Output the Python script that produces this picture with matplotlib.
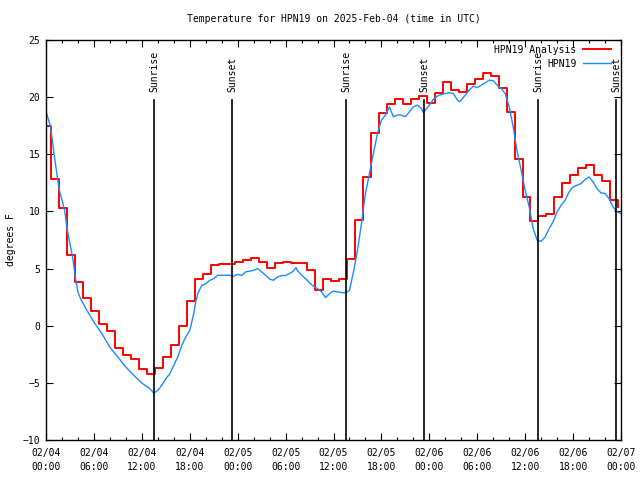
import matplotlib
matplotlib.use("Agg")
import matplotlib.pyplot as plt
import matplotlib.dates as mdates
import matplotlib.transforms as mtransforms
import numpy as np
import pandas as pd

plt.rcParams['font.family'] = ['DejaVu Sans Mono']
plt.rcParams['font.size'] = 7

start = pd.Timestamp('2025-02-04 00:00')

# hourly analysis (step line), first value valid from 23:40 the day before
ana_temps = [
    17.45, 12.87, 10.33, 6.16, 3.82, 2.42, 1.31, 0.18, -0.49, -1.95,
    -2.54, -2.95, -3.79, -4.20, -3.68, -2.71, -1.66, 0.00, 2.13, 4.12,
    4.50, 5.28, 5.37, 5.43, 5.58, 5.79, 5.93, 5.58, 5.09, 5.53,
    5.61, 5.50, 5.45, 4.91, 3.10, 4.12, 3.89, 4.12, 5.88, 9.29,
    12.97, 16.82, 18.57, 19.44, 19.88, 19.44, 19.88, 20.09, 19.53, 20.32,
    21.34, 20.61, 20.47, 21.14, 21.57, 22.07, 21.84, 20.76, 18.66, 14.63,
    11.27, 9.14, 9.58, 9.81, 11.22, 12.53, 13.23, 13.84, 14.05, 13.23,
    12.67, 11.04, 10.40,
]
ana_hours = [k - 1.0 / 3.0 for k in range(len(ana_temps))]

# station observations (hours after start, deg F)
obs_hours = [
    0.08, 0.58, 1.0, 1.42, 1.67, 2.0, 2.33, 2.67, 3.0, 3.33, 3.67, 4.0, 4.33, 5.0,
    6, 7, 8, 9, 10, 11, 12, 13, 13.5, 14, 14.5, 15, 15.5, 16, 16.5, 17, 17.5,
    18, 18.5, 18.75, 19, 19.5, 20, 20.5, 21, 21.5, 22, 22.5, 23, 23.5, 24,
    24.5, 25, 26, 26.5, 27, 27.5, 28, 28.5, 29, 29.5, 30, 30.5, 31, 31.3,
    31.5, 32, 32.5, 33, 33.5, 34, 34.5, 35, 35.5, 36, 36.5, 37, 37.5, 38,
    38.5, 39, 39.5, 40, 40.5, 41, 41.5, 42, 42.5, 43, 43.5, 44, 44.5, 45,
    45.5, 46, 46.5, 47, 47.25, 47.5, 48, 48.5, 49, 49.5, 50, 50.5, 51, 51.5,
    51.75, 52, 52.5, 53, 53.5, 54, 54.5, 55, 55.5, 56, 56.5, 57, 57.5, 58,
    58.5, 59, 59.5, 60, 60.5, 61, 61.5, 62, 62.5, 63, 63.5, 64, 64.5, 65,
    65.5, 66, 66.5, 67, 67.5, 68, 68.5, 69, 69.5, 70, 70.5, 71, 71.5, 72,
]
obs_temps = [
    18.56, 17.4, 15.06, 13.0, 11.85, 11.0, 10.1, 8.35, 7.18, 6.0, 4.26, 2.95, 2.36, 1.49,
    0.32, -0.70, -1.87, -2.74, -3.62, -4.35, -5.02, -5.51, -5.89, -5.66, -5.22, -4.64, -4.20, -3.47, -2.74, -1.72, -0.99,
    -0.41, 1.05, 2.07, 2.80, 3.53, 3.68, 3.97, 4.12, 4.41, 4.41, 4.41, 4.41, 4.33, 4.50,
    4.40, 4.71, 4.85, 5.0, 4.71, 4.42, 4.07, 3.98, 4.27, 4.39, 4.39, 4.56, 4.80, 5.09,
    4.80, 4.42, 4.12, 3.75, 3.45, 3.25, 2.96, 2.46, 2.81, 3.04, 2.96, 2.90, 2.87, 3.10,
    4.71, 6.60, 8.94, 11.57, 13.32, 15.07, 16.82, 17.99, 18.43, 19.15, 18.28, 18.43, 18.43, 18.28,
    18.72, 19.15, 19.30, 19.01, 18.66, 18.86, 19.30, 19.79, 20.09, 20.23, 20.32, 20.38, 20.32, 19.79,
    19.59, 19.74, 20.17, 20.61, 20.96, 20.84, 21.05, 21.25, 21.49, 21.43, 21.05, 20.76, 20.32, 19.15,
    17.40, 15.21, 13.61, 11.86, 10.40, 8.50, 7.48, 7.39, 7.77, 8.50, 9.09, 9.96, 10.54, 10.98,
    11.71, 12.15, 12.30, 12.44, 12.79, 13.02, 12.59, 12.00, 11.62, 11.57, 11.13, 10.40, 9.96, 9.81,
]

sunrise_hours = [13.55, 37.58, 61.62]
sunset_hours = [23.32, 47.35, 71.42]


def to_time(hours):
    return start + pd.to_timedelta(np.array(hours), unit='h')


fig = plt.figure(figsize=(6.4, 4.8), dpi=100)
ax = fig.add_axes([46 / 640, 40 / 480, 575 / 640, 400 / 480])

ax.plot(to_time(ana_hours), ana_temps, color='#ff0000', lw=1.4,
        drawstyle='steps-post', label='HPN19 Analysis')
ax.plot(to_time(obs_hours), obs_temps, color='#1a8cff', lw=1.0, label='HPN19')

# sunrise / sunset markers
trans = mtransforms.blended_transform_factory(ax.transData, ax.transAxes)
for names, hrs in (('Sunrise', sunrise_hours), ('Sunset', sunset_hours)):
    for t in to_time(hrs):
        ax.axvline(t, ymin=0, ymax=0.85, color='black', lw=1.2)
        ax.text(t, 0.87, names, transform=trans, rotation=90,
                ha='center', va='bottom', fontsize=7)

ax.set_xlim(start, start + pd.Timedelta(hours=72))
ax.set_ylim(-10, 25)
ax.set_yticks(np.arange(-10, 26, 5))
ax.xaxis.set_major_locator(mdates.HourLocator(byhour=[0, 6, 12, 18]))
ax.xaxis.set_minor_locator(mdates.HourLocator(byhour=range(0, 24, 2)))
ax.xaxis.set_major_formatter(mdates.DateFormatter('%m/%d\n%H:%M'))
ax.tick_params(which='both', direction='in', top=True, right=True, labelsize=7)
ax.tick_params(which='major', length=5, width=0.8)
ax.tick_params(which='minor', length=2.5, width=0.8)
ax.tick_params(axis='x', pad=6)
ax.tick_params(axis='y', pad=4)
plt.setp(ax.get_xticklabels(), linespacing=1.5)
for s in ax.spines.values():
    s.set_linewidth(1.0)

ax.set_ylabel('degrees F', fontsize=7, labelpad=5)
ax.set_title('Temperature for HPN19 on 2025-Feb-04 (time in UTC)', fontsize=7, pad=13)

ax.legend(loc='upper right', bbox_to_anchor=(1.0, 1.0125),
          markerfirst=False, frameon=False, fontsize=7,
          handlelength=2.9, handletextpad=0.7, labelspacing=0.4,
          borderaxespad=0.6)

fig.savefig('out.png', dpi=100)
